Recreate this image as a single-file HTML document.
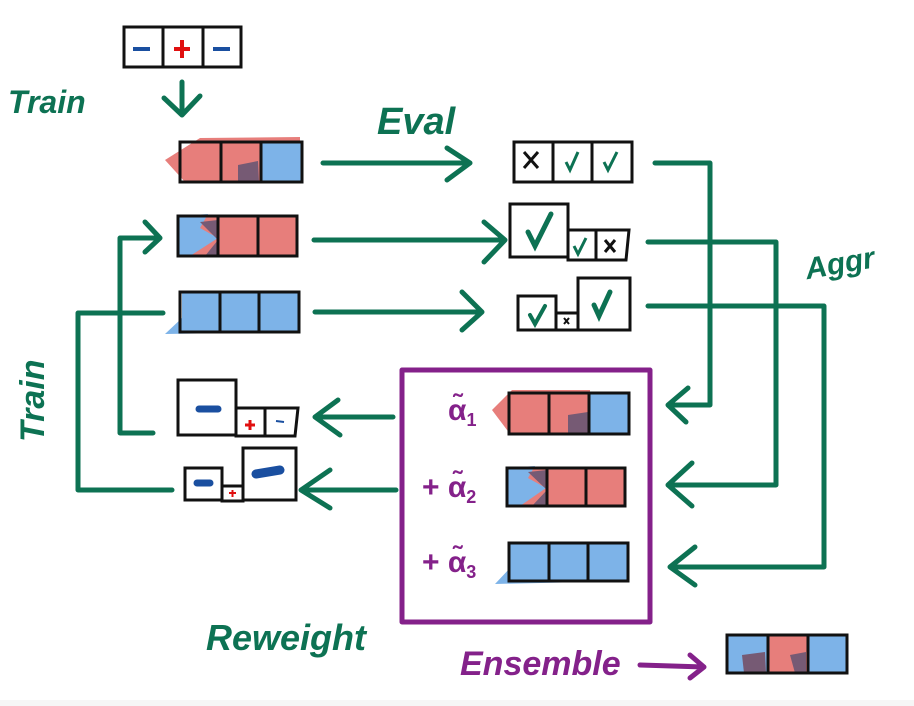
<!DOCTYPE html>
<html><head><meta charset="utf-8"><style>
html,body{margin:0;padding:0;background:#fff;}
svg{display:block;}
text{font-family:"Liberation Sans",sans-serif;font-weight:bold;}
</style></head><body>
<svg width="914" height="706" viewBox="0 0 914 706" xmlns="http://www.w3.org/2000/svg">
<defs>
<style>
.g{stroke:#0d7253;stroke-width:5;fill:none;stroke-linecap:round;stroke-linejoin:round}
.p{stroke:#84218a;stroke-width:5;fill:none;stroke-linecap:round;stroke-linejoin:round}
.k{stroke:#111;stroke-width:3;fill:none}
.R{fill:#e77e7b}.B{fill:#7db3e8}.D{fill:#765a74}
</style>
</defs>
<rect width="914" height="706" fill="#fff"/>
<rect x="0" y="700" width="914" height="6" fill="#f6f6f6"/>

<!-- top data box -->
<g>
<rect class="k" x="124" y="27" width="117" height="40" fill="#fff"/>
<line class="k" x1="163" y1="27" x2="163" y2="67"/><line class="k" x1="203" y1="27" x2="203" y2="67"/>
<line x1="133" y1="49" x2="150" y2="49" stroke="#1a4fa0" stroke-width="4"/>
<line x1="174" y1="49" x2="190" y2="49" stroke="#e01010" stroke-width="4"/><line x1="182" y1="40" x2="182" y2="58" stroke="#e01010" stroke-width="4"/>
<line x1="213" y1="49" x2="230" y2="49" stroke="#1a4fa0" stroke-width="4"/>
</g>
<path class="g" d="M182 82 L182 115 M164 98 L182 115 L200 96"/>
<text x="8" y="113" font-size="32" fill="#0d7253" font-style="italic">Train</text>
<text x="377" y="134" font-size="38" fill="#0d7253" font-style="italic">Eval</text>

<!-- row 1 model -->
<g>
<path class="R" d="M165 160 L200 138 L300 137 L300 180 L185 182 Z"/>
<rect class="B" x="261" y="142" width="41" height="40"/>
<path class="D" d="M238 165 L258 161 L259 182 L238 182 Z"/>
<rect class="k" x="180" y="142" width="122" height="40"/>
<line class="k" x1="221" y1="142" x2="221" y2="182"/><line class="k" x1="261" y1="142" x2="261" y2="182"/>
</g>
<!-- row 2 -->
<g>
<rect class="R" x="178" y="216" width="120" height="40"/>
<path class="B" d="M178 216 L208 214 L200 228 L218 238 L190 256 L178 256 Z"/>
<path class="D" d="M200 222 L218 220 L218 256 L205 256 L218 240 Z"/>
<rect class="k" x="178" y="216" width="119" height="40"/>
<line class="k" x1="218" y1="216" x2="218" y2="256"/><line class="k" x1="258" y1="216" x2="258" y2="256"/>
</g>
<!-- row 3 -->
<g>
<path class="B" d="M165 334 L182 318 L182 292 L300 292 L300 332 Z"/>
<rect class="k" x="180" y="292" width="119" height="40"/>
<line class="k" x1="220" y1="292" x2="220" y2="332"/><line class="k" x1="259" y1="292" x2="259" y2="332"/>
</g>

<!-- eval arrows -->
<path class="g" d="M323 163 L470 163 M447 148 L470 163 L447 180"/>
<path class="g" d="M314 240 L505 240 M484 222 L505 240 L484 262"/>
<path class="g" d="M315 312 L482 312 M462 292 L482 312 L462 330"/>

<!-- eval results -->
<g>
<rect class="k" x="514" y="142" width="118" height="40" fill="#fff"/>
<line class="k" x1="553" y1="142" x2="553" y2="182"/><line class="k" x1="592" y1="142" x2="592" y2="182"/>
<path d="M524 152 L538 168 M538 152 L524 168" stroke="#111" stroke-width="3"/>
<path d="M566 162 L570 170 L578 152" stroke="#0d7253" stroke-width="3" fill="none"/>
<path d="M604 162 L608 170 L617 152" stroke="#0d7253" stroke-width="3" fill="none"/>
</g>
<g>
<rect class="k" x="510" y="204" width="58" height="53" fill="#fff"/>
<rect class="k" x="568" y="230" width="28" height="30" fill="#fff"/>
<path class="k" d="M596 230 L629 230 L626 260 L596 260"/>
<path d="M528 232 L535 246 L551 214" stroke="#0d7253" stroke-width="5" fill="none" stroke-linecap="round"/>
<path d="M574 246 L578 254 L586 238" stroke="#0d7253" stroke-width="3" fill="none"/>
<path d="M605 240 L615 252 M615 240 L605 252" stroke="#111" stroke-width="3"/>
</g>
<g>
<rect class="k" x="518" y="296" width="38" height="34" fill="#fff"/>
<rect class="k" x="556" y="313" width="22" height="17" fill="#fff"/>
<rect class="k" x="578" y="278" width="52" height="52" fill="#fff"/>
<path d="M530 315 L535 324 L545 306" stroke="#0d7253" stroke-width="4" fill="none" stroke-linecap="round"/>
<path d="M564 318 L569 324 M569 318 L564 324" stroke="#111" stroke-width="2"/>
<path d="M594 305 L599 316 L610 292" stroke="#0d7253" stroke-width="5" fill="none" stroke-linecap="round"/>
</g>

<!-- aggregation lines -->
<path class="g" d="M655 163 L710 163 L710 405 L668 405 M688 388 L668 405 L686 422"/>
<path class="g" d="M648 242 L776 242 L776 485 L668 485 M692 463 L668 485 L692 506"/>
<path class="g" d="M648 306 L824 306 L824 567 L670 567 M695 547 L670 567 L695 585"/>
<text x="805" y="275" font-size="30" fill="#0d7253" font-style="italic" transform="rotate(-10 830 265)">Aggr</text>

<!-- ensemble box -->
<rect class="p" x="402" y="370" width="248" height="252"/>
<text x="448" y="420" font-size="30" fill="#84218a" font-family="Liberation Serif">α̃<tspan font-size="18" dy="6">1</tspan></text>
<text x="422" y="497" font-size="30" fill="#84218a" font-family="Liberation Serif">+ α̃<tspan font-size="18" dy="6">2</tspan></text>
<text x="422" y="572" font-size="30" fill="#84218a" font-family="Liberation Serif">+ α̃<tspan font-size="18" dy="6">3</tspan></text>
<g>
<path class="R" d="M492 410 L512 390 L590 390 L590 434 L510 434 Z"/>
<rect class="B" x="589" y="393" width="40" height="41"/>
<path class="D" d="M568 415 L588 412 L588 434 L568 434 Z"/>
<rect class="k" x="509" y="393" width="120" height="41"/>
<line class="k" x1="549" y1="393" x2="549" y2="434"/><line class="k" x1="589" y1="393" x2="589" y2="434"/>
</g>
<g>
<rect class="R" x="507" y="468" width="118" height="38"/>
<path class="B" d="M507 468 L535 466 L528 478 L546 488 L520 506 L507 506 Z"/>
<path class="D" d="M528 472 L547 470 L547 506 L532 506 L547 490 Z"/>
<rect class="k" x="507" y="468" width="118" height="38"/>
<line class="k" x1="547" y1="468" x2="547" y2="506"/><line class="k" x1="586" y1="468" x2="586" y2="506"/>
</g>
<g>
<path class="B" d="M495 584 L510 568 L510 543 L628 543 L628 581 Z"/>
<rect class="k" x="509" y="543" width="119" height="38"/>
<line class="k" x1="549" y1="543" x2="549" y2="581"/><line class="k" x1="588" y1="543" x2="588" y2="581"/>
</g>

<!-- reweight arrows -->
<path class="g" d="M393 417 L315 417 M338 400 L315 417 L340 435"/>
<path class="g" d="M396 490 L301 490 M330 470 L301 490 L330 508"/>

<!-- reweighted data -->
<g>
<rect class="k" x="178" y="380" width="58" height="55" fill="#fff"/>
<rect class="k" x="236" y="408" width="29" height="28" fill="#fff"/>
<path class="k" d="M265 408 L298 408 L295 436 L265 436"/>
<line x1="199" y1="409" x2="218" y2="409" stroke="#1a4fa0" stroke-width="7" stroke-linecap="round"/>
<path d="M245 425 L255 425 M250 420 L250 430" stroke="#e01010" stroke-width="3"/>
<line x1="276" y1="421" x2="284" y2="422" stroke="#1a4fa0" stroke-width="2"/>
</g>
<g>
<rect class="k" x="185" y="468" width="37" height="32" fill="#fff"/>
<rect class="k" x="222" y="486" width="21" height="15" fill="#fff"/>
<rect class="k" x="243" y="448" width="53" height="52" fill="#fff"/>
<line x1="197" y1="483" x2="210" y2="483" stroke="#1a4fa0" stroke-width="7" stroke-linecap="round"/>
<path d="M229 493 L236 493 M232.5 490 L232.5 497" stroke="#e01010" stroke-width="2"/>
<path d="M256 474 L280 470" stroke="#1a4fa0" stroke-width="9" stroke-linecap="round"/>
</g>

<!-- feedback loops -->
<path class="g" d="M153 433 L120 433 L120 238 L160 238 M145 222 L160 238 L145 252"/>
<path class="g" d="M172 490 L78 490 L78 313 L163 313"/>
<text x="0" y="0" font-size="34" fill="#0d7253" font-style="italic" transform="translate(44 442) rotate(-90)">Train</text>

<text x="206" y="650" font-size="36" fill="#0d7253" font-style="italic">Reweight</text>
<text x="460" y="675" font-size="34" fill="#84218a" font-style="italic">Ensemble</text>
<path class="p" d="M640 665 L704 667 M690 655 L704 667 L690 678"/>

<g>
<rect class="B" x="727" y="635" width="120" height="38"/>
<rect class="R" x="768" y="635" width="40" height="38"/>
<path class="D" d="M742 655 L765 652 L766 673 L744 673 Z"/>
<path class="D" d="M790 655 L806 652 L806 673 L795 673 Z"/>
<rect class="k" x="727" y="635" width="120" height="38"/>
<line class="k" x1="768" y1="635" x2="768" y2="673"/><line class="k" x1="808" y1="635" x2="808" y2="673"/>
</g>
</svg>
</body></html>
